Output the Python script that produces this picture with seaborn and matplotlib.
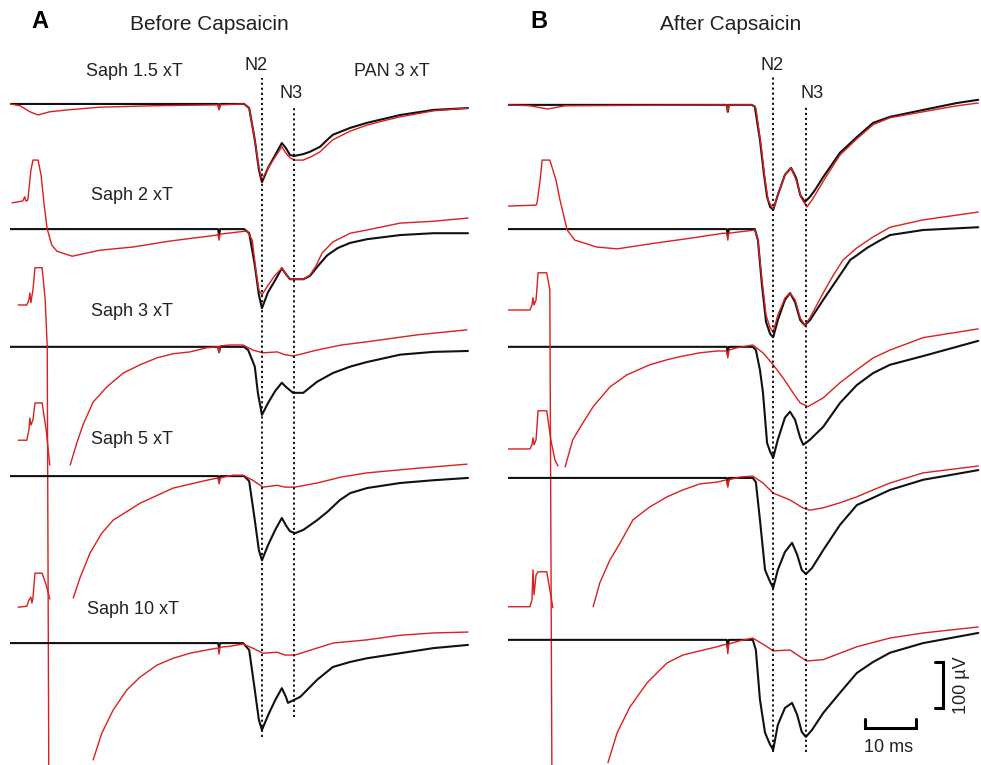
import pandas as pd
import seaborn as sns
import matplotlib.pyplot as plt

# ---------------- Data (time in ms, amplitude in uV relative to each trace baseline) ----------------
# Panel A - before capsaicin
A1_BLACK = [(0, 0), (40.8, 0), (41.0, -10), (41.2, 0), (45.9, 0), (46.9, -9), (48.0, -78), (48.8, -143),
            (49.4, -170), (50.6, -139), (52.0, -111), (53.3, -85), (54.1, -96), (54.9, -111), (55.7, -113),
            (57.5, -109), (58.8, -104), (60.8, -93), (62.2, -78), (63.3, -67), (66.7, -52), (70.0, -41),
            (73.1, -33), (76.5, -24), (83.0, -13), (89.8, -9)]
A1_RED = [(0, 0), (2.0, -4), (3.9, -17), (5.5, -24), (7.8, -17), (11.2, -13), (17.6, -7), (27.5, -4),
          (40.8, -2), (41.0, -13), (41.2, -2), (45.9, 0), (46.9, -9), (48.0, -78), (48.8, -139), (49.4, -165),
          (50.6, -139), (52.0, -115), (53.3, -93), (54.1, -107), (54.9, -117), (55.7, -122), (57.5, -122),
          (59.0, -115), (60.8, -104), (62.2, -89), (63.3, -78), (66.7, -59), (70.0, -46), (73.1, -37),
          (76.5, -28), (83.0, -15), (89.8, -9)]

A2_BLACK = [(0, 0), (40.8, 0), (41.0, -13), (41.2, 0), (45.9, 0), (46.9, -9), (48.0, -78), (48.8, -143),
            (49.4, -172), (50.6, -137), (52.0, -111), (53.3, -85), (54.1, -98), (54.9, -109), (57.5, -109),
            (58.8, -102), (60.4, -80), (62.2, -57), (64.3, -41), (66.7, -30), (70.0, -22), (76.5, -13),
            (83.0, -9), (89.8, -9)]
A2_RED = [(0.4, 57), (2.5, 61), (2.9, 70), (3.1, 61), (3.5, 63), (4.1, 128), (4.5, 150), (5.5, 150),
          (6.1, 117), (6.7, 52), (7.3, 0), (8.2, -35), (9.2, -48), (10.8, -54), (12.2, -59), (17.6, -46),
          (24.1, -39), (31.4, -26), (40.6, -13), (40.8, -11), (41.0, -24), (41.2, -11), (46.5, -4),
          (47.5, -24), (48.2, -89), (48.8, -133), (49.4, -143), (50.6, -122), (52.0, -100), (53.3, -85),
          (54.1, -98), (54.9, -109), (57.5, -109), (58.8, -100), (60.0, -80), (61.2, -52), (63.3, -28),
          (66.7, -9), (70.0, -2), (76.5, 13), (83.0, 17), (89.8, 24)]

A3_BLACK = [(0, 0), (40.8, 0), (41.0, -11), (41.2, 0), (45.9, 0), (46.7, -7), (48.0, -43), (48.6, -100),
            (49.4, -148), (50.6, -122), (52.0, -96), (53.3, -78), (54.1, -87), (55.5, -100), (57.5, -100),
            (60.2, -76), (63.3, -57), (66.7, -43), (70.0, -33), (76.5, -17), (83.0, -11), (89.8, -9)]
A3_RED_STIM = [(1.6, 91), (3.3, 91), (3.7, 102), (3.9, 117), (4.1, 96), (4.5, 124), (4.9, 172), (6.3, 172),
               (6.9, 102), (7.3, 0), (7.6, -909)]
A3_RED = [(11.8, -257), (13.1, -209), (14.3, -170), (16.3, -120), (19.0, -87), (22.2, -57), (25.5, -39),
          (28.8, -24), (32.0, -15), (35.3, -11), (38.6, -2), (40.6, 0), (40.8, 0), (41.0, -13), (41.2, 2),
          (43.1, 4), (45.7, 4), (47.6, -7), (49.6, -13), (52.4, -11), (53.9, -17), (55.5, -20),
          (60.2, -7), (65.0, 4), (70.0, 11), (79.8, 26), (89.6, 37)]

A4_BLACK = [(0, 0), (40.8, 0), (41.0, -11), (41.2, 0), (45.9, 0), (46.9, -11), (48.0, -96), (48.8, -161),
            (49.4, -183), (50.6, -150), (52.0, -117), (53.3, -91), (54.1, -107), (54.9, -120), (55.9, -124),
            (57.5, -117), (60.2, -96), (62.2, -78), (64.7, -52), (66.7, -37), (70.0, -26), (76.5, -15),
            (83.0, -9), (89.8, -4)]
A4_RED_STIM = [(1.6, 78), (3.3, 78), (3.7, 100), (3.9, 126), (4.1, 111), (4.5, 122), (4.9, 159), (6.3, 159),
               (7.1, 100), (7.8, 24)]
A4_RED = [(12.4, -265), (13.7, -222), (15.7, -167), (18.0, -124), (20.2, -96), (25.5, -59), (32.0, -26),
          (38.6, -9), (40.8, -4), (41.0, -17), (41.2, -4), (43.7, 2), (45.7, 2), (47.6, -9), (49.6, -24),
          (52.4, -20), (53.9, -24), (55.9, -24), (60.2, -15), (65.0, -2), (70.0, 7), (79.8, 17), (89.6, 26)]

A5_BLACK = [(0, 0), (40.8, 0), (41.0, -9), (41.2, 0), (45.7, 0), (46.9, -15), (48.0, -102), (48.8, -167),
            (49.4, -189), (50.6, -157), (52.0, -124), (53.3, -98), (54.1, -117), (54.5, -130), (56.9, -117),
            (60.2, -80), (63.3, -52), (66.7, -41), (70.0, -33), (76.5, -22), (83.0, -11), (89.8, -4)]
A5_RED_STIM = [(1.6, 78), (3.3, 80), (3.7, 93), (4.1, 100), (4.3, 87), (4.5, 98), (4.9, 152), (6.3, 152),
               (7.1, 126), (7.8, 96)]
A5_RED = [(16.3, -254), (18.0, -196), (20.2, -146), (22.9, -102), (25.5, -74), (28.8, -48), (32.0, -33),
          (35.3, -22), (38.6, -15), (40.6, -11), (40.8, -11), (41.0, -24), (41.2, -9), (43.1, -7),
          (45.7, -2), (47.6, -11), (49.6, -22), (52.4, -20), (53.9, -26), (55.9, -26), (63.3, 0),
          (70.0, 7), (76.5, 17), (83.0, 22), (89.8, 24)]

# Panel B - after capsaicin
B1_BLACK = [(0, 0), (42.9, 0), (43.1, -15), (43.3, 0), (47.8, 0), (48.4, -4), (49.4, -76), (50.2, -152),
            (50.8, -200), (51.4, -222), (52.0, -228), (52.9, -196), (54.3, -152), (55.5, -137), (56.5, -159),
            (57.3, -196), (58.2, -211), (59.2, -200), (60.2, -185), (61.8, -157), (65.1, -104), (68.4, -70),
            (71.6, -39), (74.9, -26), (81.4, -11), (88.0, 4), (92.2, 11)]
B1_RED = [(0, 0), (4.3, -2), (7.8, -9), (11.2, -2), (42.9, 0), (43.1, -15), (43.3, 0), (47.8, 0), (48.6, -7),
          (49.6, -87), (50.4, -163), (51.0, -207), (52.0, -228), (52.9, -196), (54.3, -152), (55.5, -137),
          (56.5, -163), (57.5, -202), (58.6, -222), (59.6, -207), (60.6, -189), (62.2, -159), (65.1, -109),
          (68.4, -74), (71.6, -43), (74.9, -28), (81.4, -15), (88.0, -2), (92.2, 4)]

B2_BLACK = [(0, 0), (42.9, 0), (43.1, -15), (43.3, 0), (48.4, 0), (49.0, -24), (49.8, -122), (50.6, -202),
            (51.4, -228), (52.0, -235), (52.9, -198), (54.3, -154), (55.3, -139), (56.3, -159), (57.3, -198),
            (58.2, -209), (59.2, -198), (61.8, -154), (65.1, -100), (67.1, -67), (68.4, -57), (70.4, -41),
            (72.4, -28), (74.9, -13), (81.4, -2), (92.2, 4)]
B2_RED = [(0, 50), (5.5, 52), (5.7, 57), (6.3, 107), (6.7, 150), (8.2, 150), (9.4, 107), (10.2, 63),
          (11.6, -2), (13.1, -24), (17.4, -39), (21.4, -43), (29.2, -30), (35.7, -20), (42.2, -9), (42.9, -9),
          (43.1, -24), (43.3, -9), (48.4, -2), (49.0, -24), (49.8, -111), (50.6, -187), (51.4, -215),
          (52.0, -224), (52.9, -187), (54.3, -150), (55.3, -139), (56.3, -154), (57.3, -193), (58.2, -209),
          (59.2, -193), (61.8, -139), (63.8, -100), (65.7, -67), (68.4, -41), (71.6, -17), (74.9, 4),
          (81.4, 20), (92.2, 37)]

B3_BLACK = [(0, 0), (42.9, 0), (43.1, -17), (43.3, 0), (48.0, 0), (48.6, -7), (49.4, -50), (50.0, -100),
            (50.8, -209), (51.4, -228), (52.0, -241), (52.9, -202), (54.3, -154), (55.3, -141), (56.3, -159),
            (57.3, -198), (57.9, -213), (59.2, -202), (61.8, -174), (65.1, -122), (68.4, -83), (71.6, -57),
            (74.9, -39), (81.4, -20), (92.2, 13)]
B3_RED_STIM = [(0, 80), (4.3, 80), (4.7, 91), (4.9, 107), (5.1, 91), (5.5, 102), (5.9, 161), (7.6, 161),
               (8.2, 124), (8.6, -909)]
B3_RED = [(11.2, -261), (12.7, -202), (14.7, -165), (16.7, -130), (20.0, -87), (23.3, -61), (27.8, -39),
          (31.2, -28), (34.3, -20), (37.6, -13), (41.0, -9), (42.9, -9), (43.1, -24), (43.3, -7), (44.9, -2),
          (48.0, 4), (50.0, -13), (52.0, -39), (53.9, -67), (55.9, -100), (57.3, -122), (58.8, -130),
          (61.8, -111), (65.1, -78), (68.4, -50), (71.6, -24), (74.9, -7), (81.4, 20), (92.2, 39)]

B4_BLACK = [(0, 0), (42.9, 0), (43.1, -15), (43.3, 0), (48.0, 0), (48.6, -9), (49.4, -91), (50.4, -200),
            (51.4, -226), (52.0, -239), (52.9, -200), (54.3, -161), (55.7, -141), (56.7, -167), (57.6, -200),
            (58.4, -209), (59.6, -196), (61.8, -157), (65.1, -102), (68.4, -59), (71.6, -43), (74.9, -26),
            (81.4, -4), (92.2, 17)]
B4_RED_STIM = [(0, 63), (4.3, 63), (4.7, 72), (4.9, 87), (5.1, 72), (5.5, 83), (5.9, 146), (7.6, 146),
               (8.4, 83), (9.2, 39), (9.8, 26)]
B4_RED = [(16.7, -280), (18.0, -228), (20.0, -178), (22.0, -141), (24.5, -91), (27.8, -63), (31.2, -41),
          (34.3, -26), (37.6, -13), (41.0, -9), (42.9, -4), (43.1, -20), (43.3, -4), (45.5, 2), (48.0, 4),
          (50.0, -11), (52.0, -33), (55.3, -48), (57.8, -65), (59.2, -70), (61.8, -65), (65.1, -54),
          (68.4, -41), (71.6, -26), (74.9, -11), (81.4, 11), (92.2, 26)]

B5_BLACK = [(0, 0), (42.9, 0), (43.1, -17), (43.3, 0), (48.0, 0), (48.6, -22), (49.4, -130), (50.4, -202),
            (51.4, -228), (52.0, -239), (52.9, -185), (54.3, -148), (55.7, -137), (56.7, -163), (57.6, -200),
            (58.4, -211), (59.6, -196), (61.8, -159), (65.1, -115), (68.4, -72), (71.6, -48), (74.9, -28),
            (81.4, -7), (92.2, 15)]
B5_RED_STIM = [(0, 72), (4.3, 72), (4.7, 87), (4.9, 152), (5.1, 98), (5.5, 141), (5.9, 148), (7.6, 148),
               (8.2, 109), (8.8, 70)]
B5_RED = [(19.6, -267), (21.4, -202), (23.9, -146), (27.3, -93), (31.2, -50), (34.3, -33), (37.6, -24),
          (41.0, -15), (42.9, -9), (43.1, -30), (43.3, -9), (45.5, -2), (48.0, 4), (50.8, -15), (52.0, -24),
          (55.3, -22), (57.6, -39), (58.6, -46), (61.8, -43), (68.4, -15), (74.9, 4), (81.4, 15), (92.2, 28)]

# N2 / N3 latencies (ms)
A_LATENCIES = {"N2": 49.4, "N3": 55.7}
B_LATENCIES = {"N2": 52.0, "N3": 58.4}

ROW_LABELS = ["Saph 1.5 xT", "Saph 2 xT", "Saph 3 xT", "Saph 5 xT", "Saph 10 xT"]

# ---------------- Layout ----------------
W, H = 981, 765
PX_PER_MS = 5.1
PX_PER_UV = 0.46
Y_BOTTOM = -H / PX_PER_UV
ROWS_A = [-226, -498, -754, -1035, -1398]   # baselines (uV in axis units)
ROWS_B = [-228, -498, -754, -1039, -1391]
RED = "#dc1e1e"
BLACK = "#111111"

sns.set_theme(style="white")
plt.rcParams["font.family"] = ["Liberation Sans", "DejaVu Sans"]

fig = plt.figure(figsize=(W / 100, H / 100), dpi=100)
ax_a = fig.add_axes([10 / W, 0, 92 * PX_PER_MS / W, 1])
ax_b = fig.add_axes([508 / W, 0, 92.5 * PX_PER_MS / W, 1])
ax_a.set_xlim(0, 92)
ax_b.set_xlim(0, 92.5)
for ax in (ax_a, ax_b):
    ax.set_ylim(Y_BOTTOM, 0)
    ax.axis("off")
    ax.patch.set_alpha(0)


def draw_trace(ax, pts, offset, color, lw):
    df = pd.DataFrame(pts, columns=["t", "v"])
    df["v"] = df["v"] + offset
    sns.lineplot(data=df, x="t", y="v", sort=False, estimator=None, color=color,
                 linewidth=lw, ax=ax, legend=False)


panel_a = [
    (A1_BLACK, [A1_RED]),
    (A2_BLACK, [A2_RED]),
    (A3_BLACK, [A3_RED_STIM, A3_RED]),
    (A4_BLACK, [A4_RED_STIM, A4_RED]),
    (A5_BLACK, [A5_RED_STIM, A5_RED]),
]
panel_b = [
    (B1_BLACK, [B1_RED]),
    (B2_BLACK, [B2_RED]),
    (B3_BLACK, [B3_RED_STIM, B3_RED]),
    (B4_BLACK, [B4_RED_STIM, B4_RED]),
    (B5_BLACK, [B5_RED_STIM, B5_RED]),
]

for ax, panel, rows in ((ax_a, panel_a, ROWS_A), (ax_b, panel_b, ROWS_B)):
    for (black, reds), base in zip(panel, rows):
        draw_trace(ax, black, base, BLACK, 1.5)
        for seg in reds:
            draw_trace(ax, seg, base, RED, 1.0)

# dotted latency markers
dots = (0, (1.2, 1.6))
ax_a.vlines(A_LATENCIES["N2"], -1602, -170, colors="black", linestyles=[dots], lw=1.3)
ax_a.vlines(A_LATENCIES["N3"], -1559, -233, colors="black", linestyles=[dots], lw=1.3)
ax_b.vlines(B_LATENCIES["N2"], -1635, -163, colors="black", linestyles=[dots], lw=1.3)
ax_b.vlines(B_LATENCIES["N3"], -1635, -233, colors="black", linestyles=[dots], lw=1.3)

# scale bars: 10 ms and 100 uV
ax_b.plot([70, 70, 80, 80], [-1563, -1583, -1583, -1563], color="black", lw=2.2,
          solid_joinstyle="miter", clip_on=False)
ax_b.plot([83.7, 85.3, 85.3, 83.7], [-1439, -1439, -1539, -1539], color="black", lw=2.2,
          solid_joinstyle="miter", clip_on=False)


def label(x, y, s, color="#222222", **kw):
    fig.text(x / W, 1 - y / H, s, ha="center", va="center", color=color, **kw)


label(40, 22, "A", fontsize=17, fontweight="bold", color="black")
label(209, 25, "Before Capsaicin", fontsize=15)
label(539, 22, "B", fontsize=17, fontweight="bold", color="black")
label(731, 25, "After Capsaicin", fontsize=15)

for (x, y), s in zip([(134, 72), (132, 195), (132, 312), (132, 440), (133, 610)], ROW_LABELS):
    label(x, y, s, fontsize=13)
label(392, 72, "PAN 3 xT", fontsize=13)

label(256, 65, "N2", fontsize=13)
label(291, 93, "N3", fontsize=13)
label(772, 65, "N2", fontsize=13)
label(812, 93, "N3", fontsize=13)

label(889, 747, "10 ms", fontsize=13)
label(961, 685, "100 \u00b5V", fontsize=13, rotation=90)

fig.savefig("out.png", dpi=100)
